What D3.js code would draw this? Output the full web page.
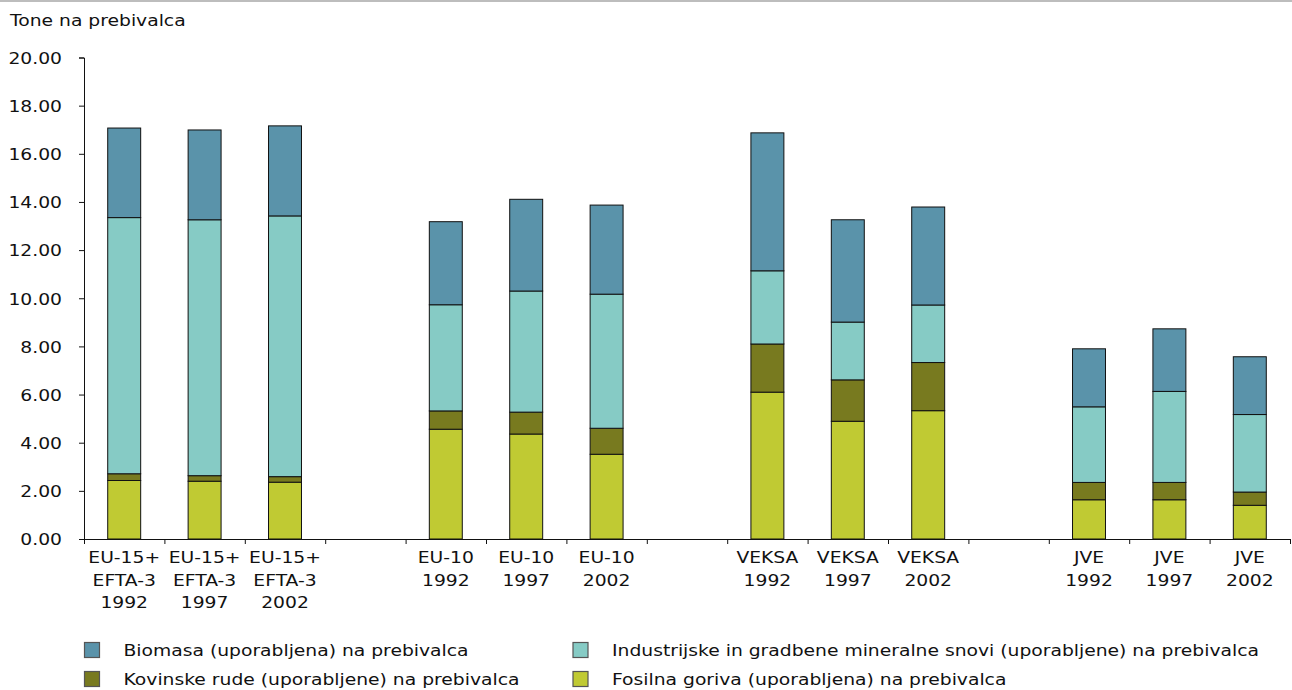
<!DOCTYPE html>
<html>
<head>
<meta charset="utf-8">
<script src="https://cdn.jsdelivr.net/npm/d3@7"></script>
<style>
  html, body { margin: 0; padding: 0; background: #fff; }
  svg { display: block; }
  text { font-family: "DejaVu Sans", Verdana, sans-serif; font-size: 16px; fill: #111; }
</style>
</head>
<body>
<svg id="chart" width="1292" height="690"></svg>
<script>
// Categories: region / year; empty strings are spacer slots between groups
const categories = [
  "EU-15+|EFTA-3|1992", "EU-15+|EFTA-3|1997", "EU-15+|EFTA-3|2002", "",
  "EU-10|1992", "EU-10|1997", "EU-10|2002", "",
  "VEKSA|1992", "VEKSA|1997", "VEKSA|2002", "",
  "JVE|1992", "JVE|1997", "JVE|2002"
];

// Series values, tonnes per inhabitant (null = spacer)
const fossil     = [2.43, 2.40, 2.36, null, 4.56, 4.36, 3.52, null, 6.10, 4.89, 5.33, null, 1.63, 1.63, 1.40];
const metal      = [0.28, 0.23, 0.23, null, 0.76, 0.91, 1.08, null, 2.00, 1.72, 2.00, null, 0.72, 0.72, 0.55];
const industrial = [10.64, 10.63, 10.83, null, 4.41, 5.03, 5.57, null, 3.04, 2.40, 2.39, null, 3.14, 3.78, 3.22];
const biomass    = [3.72, 3.73, 3.74, null, 3.45, 3.81, 3.70, null, 5.73, 4.25, 4.07, null, 2.41, 2.60, 2.40];

const seriesNames = [
  "Fosilna goriva (uporabljena) na prebivalca",
  "Kovinske rude (uporabljene) na prebivalca",
  "Industrijske in gradbene mineralne snovi (uporabljene) na prebivalca",
  "Biomasa (uporabljena) na prebivalca"
];
const seriesColors = ["#c0ca33", "#787a1f", "#86cbc5", "#5a93aa"];
const yTicks = [0, 2, 4, 6, 8, 10, 12, 14, 16, 18, 20];
const yTitle = "Tone na prebivalca";

// Rows for the stack
const keys = ["fossil", "metal", "industrial", "biomass"];
const rows = categories.map((c, i) => ({
  idx: i, label: c,
  fossil: fossil[i] || 0, metal: metal[i] || 0,
  industrial: industrial[i] || 0, biomass: biomass[i] || 0,
  empty: fossil[i] == null
}));

const svg = d3.select("#chart");
const plotLeft = 84, plotRight = 1290, plotTop = 57.5, plotBottom = 539;

const x = d3.scaleBand().domain(d3.range(categories.length)).range([plotLeft, plotRight])
  .paddingInner(0.59).paddingOuter(0.295);
const xEdges = d3.scaleLinear().domain([0, categories.length]).range([plotLeft, plotRight]);
const y = d3.scaleLinear().domain([0, 20]).range([plotBottom, plotTop]);
const color = d3.scaleOrdinal().domain(keys).range(seriesColors);

// Widen glyphs slightly to a Verdana-like width
const STRETCH = 1.17;
function stretch(sel) {
  sel.each(function () {
    const len = this.getComputedTextLength();
    if (len > 0) {
      d3.select(this).attr("textLength", len * STRETCH).attr("lengthAdjust", "spacingAndGlyphs");
    }
  });
}

// Thin rule across the top
svg.append("line").attr("x1", 0).attr("x2", 1292).attr("y1", 1).attr("y2", 1)
  .attr("stroke", "#bdbdbd").attr("stroke-width", 2);

// Axis title
svg.append("text").attr("x", 10).attr("y", 26).text(yTitle).call(stretch);

// Stacked bars
const stack = d3.stack().keys(keys)(rows);
svg.append("g").selectAll("g").data(stack).join("g")
  .attr("fill", d => color(d.key))
  .selectAll("rect").data(d => d.filter(p => !p.data.empty)).join("rect")
  .attr("x", d => x(d.data.idx))
  .attr("width", x.bandwidth())
  .attr("y", d => y(d[1]))
  .attr("height", d => y(d[0]) - y(d[1]))
  .attr("stroke", "#111").attr("stroke-width", 1);

// Y axis
const yAxis = svg.append("g").attr("transform", `translate(${plotLeft},0)`)
  .call(d3.axisLeft(y).tickValues(yTicks).tickFormat(d3.format(".2f")).tickSize(5).tickPadding(17));
yAxis.select(".domain").attr("stroke", "#111");
yAxis.selectAll(".tick line").attr("stroke", "#111");
yAxis.selectAll("text").attr("font-size", 16).attr("font-family", "DejaVu Sans").attr("fill", "#111")
  .attr("dy", "0.36em").call(stretch);

// X axis: line and boundary ticks
const xAxis = svg.append("g").attr("transform", `translate(0,${plotBottom})`)
  .call(d3.axisBottom(xEdges).tickValues(d3.range(categories.length + 1)).tickFormat("").tickSize(5).tickSizeOuter(5));
xAxis.select(".domain").attr("stroke", "#111");
xAxis.selectAll(".tick line").attr("stroke", "#111");

// X labels, multi-line
const xl = svg.append("g").attr("transform", `translate(0,${plotBottom})`)
  .call(d3.axisBottom(x).tickSize(0).tickFormat(""));
xl.select(".domain").remove();
xl.selectAll(".tick").each(function (d) {
  const lines = categories[d] ? categories[d].split("|") : [];
  lines.forEach((ln, i) => {
    d3.select(this).append("text").attr("text-anchor", "middle").attr("fill", "#111")
      .attr("font-size", 16).attr("font-family", "DejaVu Sans")
      .attr("x", 0).attr("y", 24.3 + i * 22.2).text(ln).call(stretch);
  });
});

// Legend
const legendItems = [
  { key: "biomass", col: 0, row: 0 },
  { key: "industrial", col: 1, row: 0 },
  { key: "metal", col: 0, row: 1 },
  { key: "fossil", col: 1, row: 1 }
];
const legend = svg.append("g");
const colX = [84.5, 573], rowY = [642.5, 671.5];
legendItems.forEach(it => {
  const g = legend.append("g").attr("transform", `translate(${colX[it.col]},${rowY[it.row]})`);
  g.append("rect").attr("width", 15).attr("height", 15)
    .attr("fill", color(it.key)).attr("stroke", "#555").attr("stroke-width", 1.2);
  g.append("text").attr("x", 39).attr("y", 13.5)
    .text(seriesNames[keys.indexOf(it.key)]).call(stretch);
});
</script>
</body>
</html>
